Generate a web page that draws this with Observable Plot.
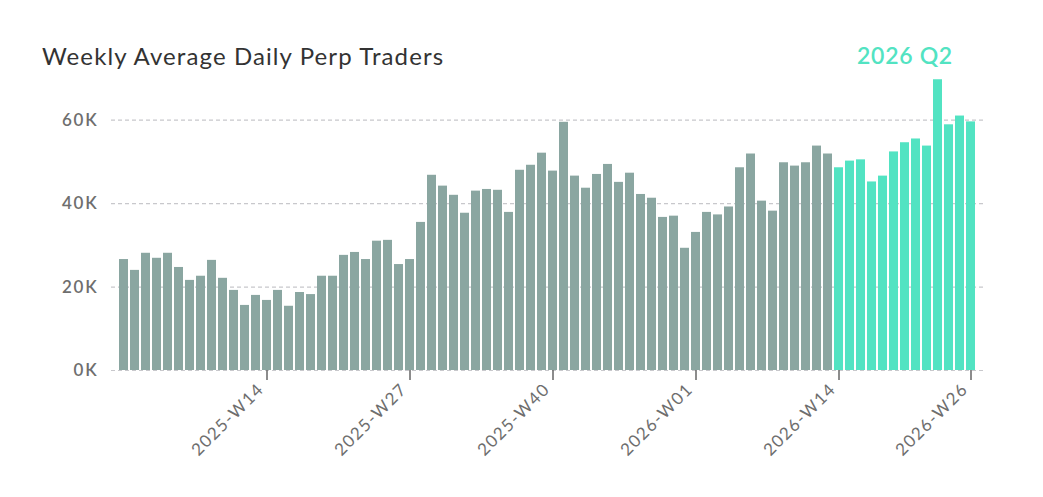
<!DOCTYPE html>
<html>
<head>
<meta charset="utf-8">
<script src="https://cdn.jsdelivr.net/npm/d3@7"></script>
<script src="https://cdn.jsdelivr.net/npm/@observablehq/plot@0.6"></script>
<style>
  html, body { margin: 0; padding: 0; background: #fff; }
  #wrap { position: relative; width: 1043px; height: 497px; font-family: Lato, "Noto Sans", sans-serif; }
  #title { position: absolute; left: 42px; top: 41px; font-size: 24px; color: #333; letter-spacing: 1.1px; }
  g[aria-label="x-axis tick label"] text { letter-spacing: 1.4px; }
  g[aria-label="y-axis tick label"] text { letter-spacing: 1.8px; }
  g[aria-label="text"] text { letter-spacing: 0.7px; }
</style>
</head>
<body>
<div id="wrap">
  <div id="title">Weekly Average Daily Perp Traders</div>
  <div id="chart"></div>
</div>
<script>
const weeks = [
  "2025-W01","2025-W02","2025-W03","2025-W04","2025-W05","2025-W06","2025-W07","2025-W08","2025-W09","2025-W10",
  "2025-W11","2025-W12","2025-W13","2025-W14","2025-W15","2025-W16","2025-W17","2025-W18","2025-W19","2025-W20",
  "2025-W21","2025-W22","2025-W23","2025-W24","2025-W25","2025-W26","2025-W27","2025-W28","2025-W29","2025-W30",
  "2025-W31","2025-W32","2025-W33","2025-W34","2025-W35","2025-W36","2025-W37","2025-W38","2025-W39","2025-W40",
  "2025-W41","2025-W42","2025-W43","2025-W44","2025-W45","2025-W46","2025-W47","2025-W48","2025-W49","2025-W50",
  "2025-W51","2025-W52",
  "2026-W01","2026-W02","2026-W03","2026-W04","2026-W05","2026-W06","2026-W07","2026-W08","2026-W09","2026-W10",
  "2026-W11","2026-W12","2026-W13","2026-W14","2026-W15","2026-W16","2026-W17","2026-W18","2026-W19","2026-W20",
  "2026-W21","2026-W22","2026-W23","2026-W24","2026-W25","2026-W26"
];
const traders = [
  26600, 24000, 28100, 26900, 28100, 24700, 21600, 22600, 26400, 22100,
  19200, 15600, 18000, 16800, 19200, 15400, 18700, 18200, 22600, 22600,
  27600, 28300, 26600, 31000, 31200, 25400, 26600, 35500, 46800, 44200,
  42000, 37700, 43000, 43400, 43200, 37900, 48000, 49200, 52100, 47800,
  59500, 46600, 43700, 47000, 49400, 45100, 47300, 42200, 41300, 36700,
  37000, 29300,
  33100, 37900, 37300, 39200, 48600, 51900, 40600, 38200, 49800, 49000,
  49800, 53800, 51900, 48600, 50200, 50500, 45200, 46600, 52400, 54600,
  55500, 53800, 69700, 58900, 61000, 59600
];
const highlightWeeks = ["2026-W14","2026-W15","2026-W16","2026-W17","2026-W18","2026-W19","2026-W20",
  "2026-W21","2026-W22","2026-W23","2026-W24","2026-W25","2026-W26"];
const highlightLabel = "2026 Q2";
const highlightLabelWeek = "2026-W20";
const highlightLabelValue = 75200;
const xTickLabels = ["2025-W14","2025-W27","2025-W40","2026-W01","2026-W14","2026-W26"];
const yTicks = [0, 20000, 40000, 60000];

const grayColor = "#8aa6a1";
const greenColor = "#52e3c2";

const data = weeks.map((w, i) => ({week: w, value: traders[i], hi: highlightWeeks.includes(w)}));

const chart = Plot.plot({
  width: 1043,
  height: 497,
  marginLeft: 115,
  marginRight: 64,
  marginTop: 78,
  marginBottom: 127,
  style: {fontFamily: "Lato, 'Noto Sans', sans-serif", background: "#fff", overflow: "visible"},
  x: {type: "band", domain: weeks, padding: 0.18, label: null},
  y: {domain: [0, 70000], label: null},
  marks: [
    Plot.ruleY(yTicks, {stroke: "#c8c8cc", strokeDasharray: "4,3", strokeWidth: 1.2, insetLeft: -4, insetRight: -6}),
    Plot.barY(data, {x: "week", y: "value", fill: d => d.hi ? greenColor : grayColor}),
    Plot.axisX({ticks: xTickLabels, tickSize: 10, tickFormat: () => "", stroke: "#666", strokeWidth: 1.5, label: null}),
    Plot.axisX({ticks: xTickLabels, tickRotate: -45, tickSize: 0, tickPadding: 17, dx: -6, dy: -1, fill: "#6e6e6e", fontSize: 17, label: null}),
    Plot.axisY({ticks: yTicks, tickFormat: d => d / 1000 + "K", tickSize: 0, tickPadding: 17, fill: "#6e6e6e", fontSize: 17, fontWeight: 600, label: null}),
    Plot.text([highlightLabel], {x: () => highlightLabelWeek, y: () => highlightLabelValue, text: d => d, fill: greenColor, fontSize: 23, fontWeight: 600})
  ]
});
document.getElementById("chart").appendChild(chart);
</script>
</body>
</html>
